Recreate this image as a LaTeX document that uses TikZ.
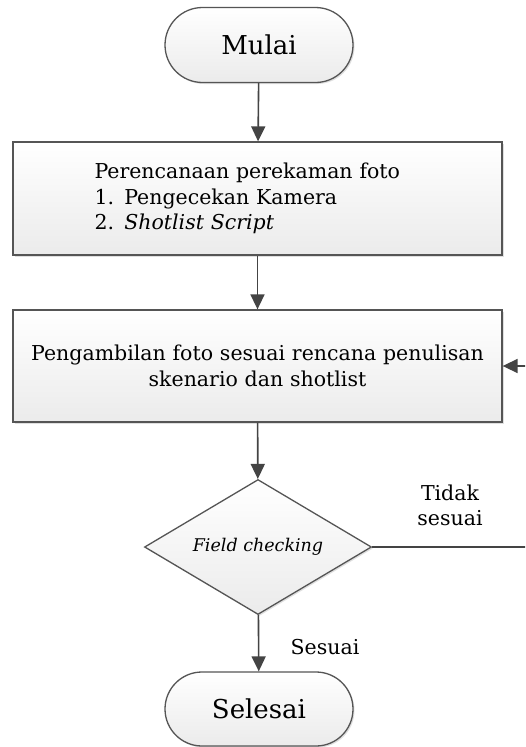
\documentclass[tikz,border=0pt]{standalone}
\usepackage{fontspec}
\setmainfont{DejaVu Serif}
\usetikzlibrary{shapes.geometric,shapes.misc,arrows.meta,shadows}
\definecolor{edge}{HTML}{555555}
\definecolor{wire}{HTML}{444444}
\definecolor{fillbot}{HTML}{EBEBEB}
\tikzset{
  shade box/.style={draw=edge, line width=1.3pt, top color=white, bottom color=fillbot,
    drop shadow={opacity=0.25, shadow xshift=1.5pt, shadow yshift=-1.5pt}},
  terminal/.style={shade box, rounded rectangle, minimum width=188pt, minimum height=75pt,
    inner sep=0pt, font=\fontsize{26}{30}\selectfont},
  procbox/.style={shade box, rectangle, minimum width=489pt, inner sep=0pt,
    font=\fontsize{20.5}{25.5}\selectfont},
  decision/.style={shade box, diamond, aspect=1.68, minimum width=227pt, minimum height=135pt,
    inner sep=0pt, font=\fontsize{17.5}{20}\selectfont\itshape},
  flow/.style={draw=wire, line width=1.6pt, -{Triangle[width=14pt,length=15pt]}},
  note/.style={font=\fontsize{20.5}{25}\selectfont, align=center}
}
\begin{document}
\begin{tikzpicture}[x=1pt, y=-1pt]
\useasboundingbox (0,0) rectangle (525,747);
\clip (0,0) rectangle (525,747);
\fill[white] (0,0) rectangle (525,747);

\node[terminal] (start) at (259,45) {Mulai};
\node[procbox, minimum height=113pt, text width=326pt, align=left] (plan) at (257.5,198.5)
  {Perencanaan perekaman foto\\1. Pengecekan Kamera\\2. \textit{Shotlist Script}};
\node[procbox, minimum height=112pt, text width=480pt, align=center] (take) at (257.5,366)
  {Pengambilan foto sesuai rencana penulisan\\skenario dan shotlist};
\node[decision] (check) at (258,547) {Field checking};
\node[terminal, minimum height=74pt] (stop) at (259,709) {Selesai};

\coordinate (loop) at (540,547);

\draw[flow] (start) -- (plan);
\draw[flow] (plan) -- (take);
\draw[flow] (take) -- (check);
\draw[flow] (check) -- (stop);
\draw[flow] (check.east) -- (loop) |- (take.east);

\node[note] (no) at (450,505) {Tidak\\sesuai};
\node[note] (yes) at (325,647) {Sesuai};
\end{tikzpicture}
\end{document}
